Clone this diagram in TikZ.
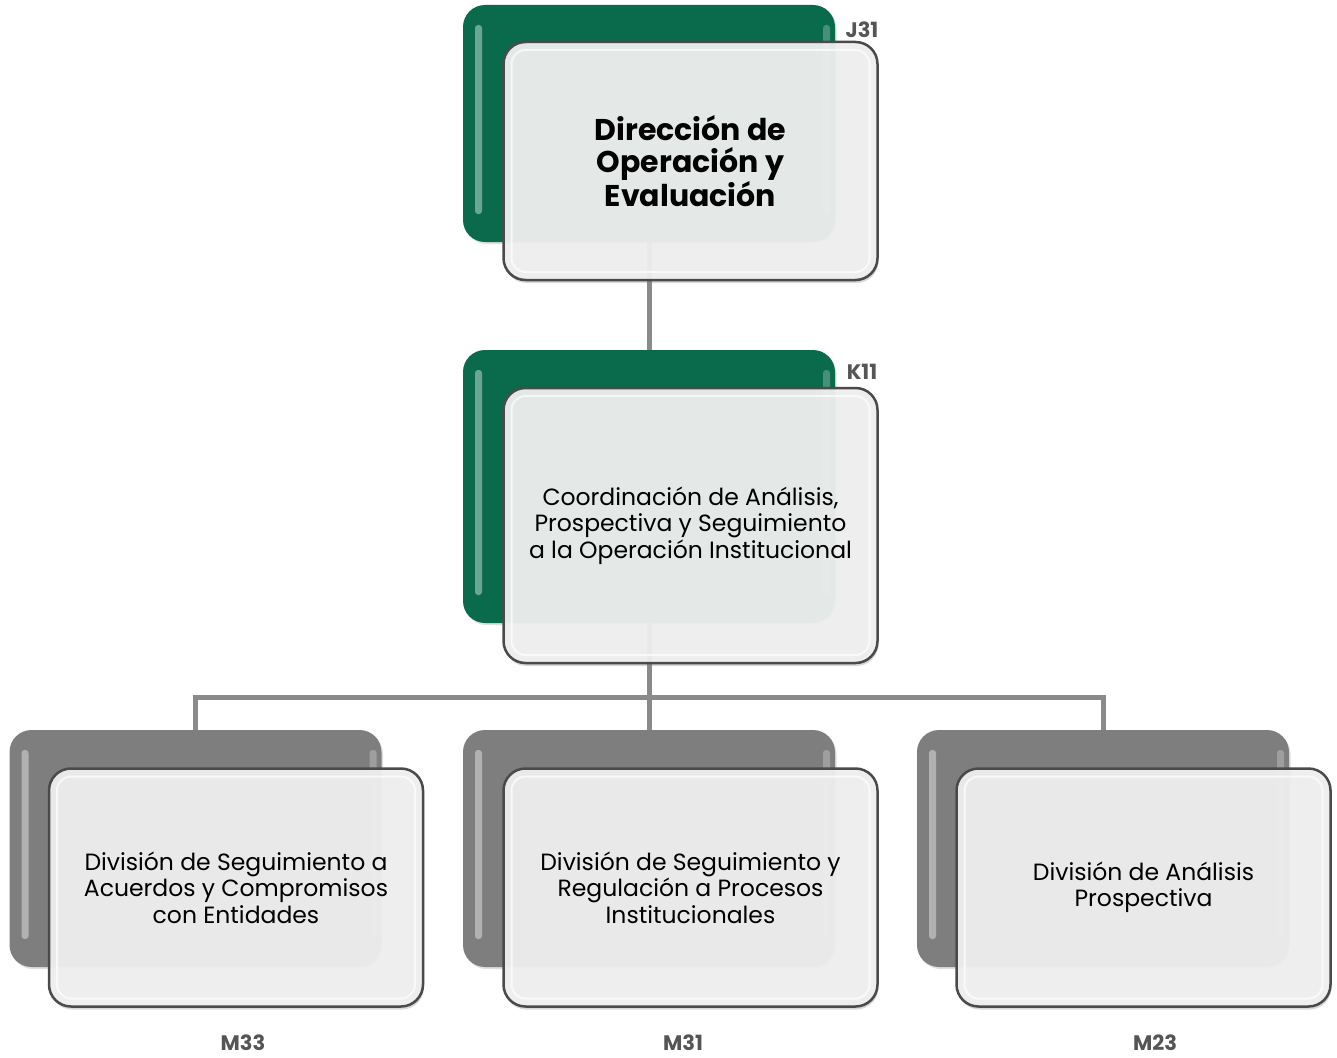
\documentclass[tikz,border=0pt]{standalone}
\usepackage{fontspec}
\setmainfont{Poppins}
\usetikzlibrary{shadows}
\definecolor{dgreen}{HTML}{0A6A4C}
\definecolor{bgray}{HTML}{7E7E7E}
\definecolor{frontfill}{HTML}{F0F0F0}
\definecolor{edge}{HTML}{4A4A4A}
\definecolor{conn}{HTML}{8A8A8A}
\definecolor{codec}{HTML}{555555}
\tikzset{
  backbox/.style={rectangle, rounded corners=22pt, minimum width=372pt, minimum height=237pt,
    inner sep=0pt, draw=none,
    drop shadow={opacity=0.25, shadow xshift=1.5pt, shadow yshift=-2pt},
    path picture={
      \fill[white,opacity=0.4,rounded corners=3pt]
        ([xshift=12pt,yshift=-20pt]path picture bounding box.north west) rectangle
        ([xshift=19pt,yshift=28pt]path picture bounding box.south west);
      \fill[white,opacity=0.25,rounded corners=3pt]
        ([xshift=-12pt,yshift=-20pt]path picture bounding box.north east) rectangle
        ([xshift=-5pt,yshift=28pt]path picture bounding box.south east);
    }},
  greenbox/.style={backbox, fill=dgreen},
  graybox/.style={backbox, fill=bgray},
  frontbox/.style={rectangle, rounded corners=22pt, minimum width=374pt, minimum height=238pt,
    inner sep=0pt, draw=edge, line width=2.5pt, fill=frontfill, fill opacity=0.94, text opacity=1,
    align=center, text=black,
    drop shadow={opacity=0.3, shadow xshift=1pt, shadow yshift=-3pt},
    path picture={
      \draw[white,line width=2pt,opacity=0.7,rounded corners=14pt]
        ([xshift=8pt,yshift=-8pt]path picture bounding box.north west) rectangle
        ([xshift=-8pt,yshift=8pt]path picture bounding box.south east);
    }},
  regtext/.style={font=\fontsize{23.5}{26.5}\selectfont},
  boldtext/.style={font=\bfseries\fontsize{30}{32}\selectfont},
  code/.style={font=\bfseries\fontsize{21}{24}\selectfont, text=codec, inner sep=0pt},
  connector/.style={draw=conn, line width=5pt}
}
\begin{document}
\begin{tikzpicture}[x=1pt,y=-1pt]
\useasboundingbox (0,0) rectangle (1337,1057);
\fill[white] (0,0) rectangle (1337,1057);

% back boxes
\node[greenbox] (jb) at (649,123.5) {};
\node[greenbox, minimum height=273pt] (kb) at (649,486.5) {};
\node[graybox] (m33b) at (195.5,848.5) {};
\node[graybox] (m31b) at (649,848.5) {};
\node[graybox] (m23b) at (1103,848.5) {};

% connectors (behind front boxes)
\coordinate (bus) at (649,697);
\draw[connector] (jb.south) -- (kb.north);
\draw[connector] (kb.south) -- (bus);
\draw[connector] (bus) -| (m33b.north);
\draw[connector] (bus) -- (m31b.north);
\draw[connector] (bus) -| (m23b.north);

% front boxes
\node[frontbox, boldtext] (jf) at (690.5,161) {Dirección de\\Operación y\\Evaluación};
\node[frontbox, regtext, minimum height=275pt] (kf) at (690.5,525.5) {Coordinación de Análisis,\\Prospectiva y Seguimiento\\a la Operación Institucional};
\node[frontbox, regtext] (m33f) at (236,887.5) {División de Seguimiento a\\Acuerdos y Compromisos\\con Entidades};
\node[frontbox, regtext] (m31f) at (690.5,887.5) {División de Seguimiento y\\Regulación a Procesos\\Institucionales};
\node[frontbox, regtext] (m23f) at (1143.5,887.5) {División de Análisis\\Prospectiva};

% codes
\node[code] (j31) at (862,30) {J31};
\node[code] (k11) at (862,372) {K11};
\node[code] (m33) at (243,1043) {M33};
\node[code] (m31) at (683,1043) {M31};
\node[code] (m23) at (1155,1043) {M23};
\end{tikzpicture}
\end{document}
